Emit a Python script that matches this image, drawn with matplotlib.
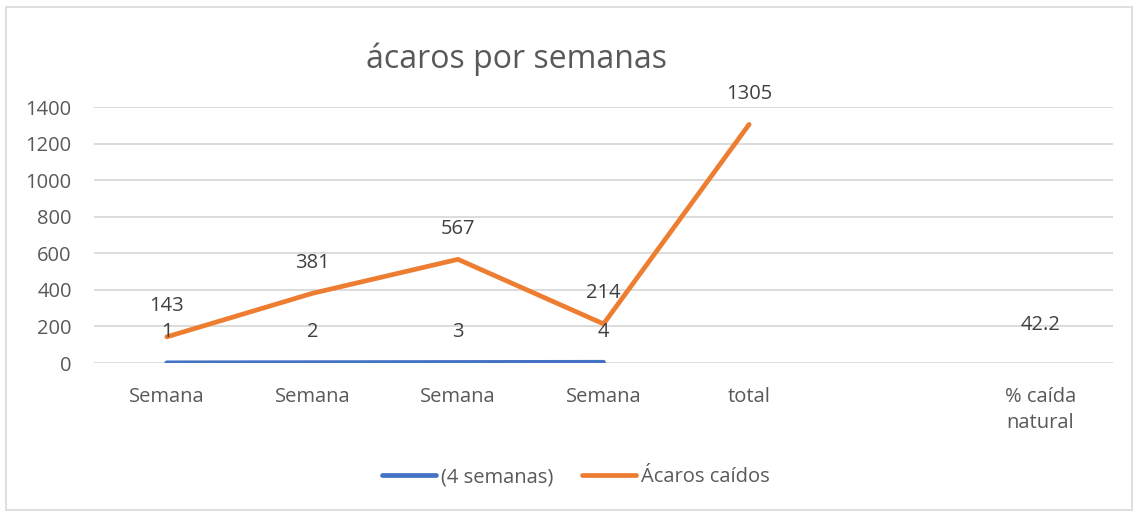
import numpy as np
import matplotlib.pyplot as plt
from matplotlib.patches import Rectangle

# datos
categorias = ["Semana", "Semana", "Semana", "Semana", "total", "", "% caída\nnatural"]
semanas_4 = [1, 2, 3, 4, np.nan, np.nan, np.nan]
acaros_caidos = [143, 381, 567, 214, 1305, np.nan, 42.2]
etiquetas_4 = ["1", "2", "3", "4", "", "", ""]
etiquetas_acaros = ["143", "381", "567", "214", "1305", "", "42.2"]
yticks = [0, 200, 400, 600, 800, 1000, 1200, 1400]

plt.rcParams["font.family"] = ["Open Sans", "DejaVu Sans"]

fig = plt.figure(figsize=(11.38, 5.12), dpi=100)
fig.patches.append(Rectangle((0.005, 0.004), 0.990, 0.983, transform=fig.transFigure,
                             fill=False, edgecolor="#d9d9d9", linewidth=1.2))
ax = fig.add_axes([0.0826, 0.291, 0.8955, 0.5])

x = np.arange(len(categorias))
azul = "#4472C4"
naranja = "#ED7D31"
fs = 14.5

ax.plot(x, semanas_4, color=azul, lw=3.4, solid_capstyle="round", label="(4 semanas)", zorder=3)
ax.plot(x, acaros_caidos, color=naranja, lw=3.4, solid_capstyle="round",
        solid_joinstyle="round", label="Ácaros caídos", zorder=3)

for xi, v, t in zip(x, semanas_4, etiquetas_4):
    if t:
        ax.annotate(t, (xi, v), xytext=(0, 22), textcoords="offset points",
                    ha="center", va="center", fontsize=fs, color="#404040")
for xi, v, t in zip(x, acaros_caidos, etiquetas_acaros):
    if t:
        ax.annotate(t, (xi, v), xytext=(0, 22), textcoords="offset points",
                    ha="center", va="center", fontsize=fs, color="#404040")

ax.set_xlim(-0.5, len(categorias) - 0.5)
ax.set_ylim(0, 1400)
ax.set_yticks(yticks)
ax.set_xticks(x)
ax.set_xticklabels(categorias, va="top", linespacing=1.45)
ax.tick_params(axis="both", length=0, labelsize=fs, labelcolor="#595959")
ax.tick_params(axis="x", pad=17)
ax.tick_params(axis="y", pad=16)
ax.grid(axis="y", color="#d9d9d9", lw=1.3)
ax.set_axisbelow(True)
for s in ax.spines.values():
    s.set_visible(False)

fig.text(0.454, 0.884, "ácaros por semanas", ha="center", va="center",
         fontsize=23, color="#595959")

leg = fig.legend(loc="center", bbox_to_anchor=(0.506, 0.068), ncol=2, frameon=False,
                 fontsize=fs, handlelength=2.7, handletextpad=0.25, columnspacing=1.4)
for txt in leg.get_texts():
    txt.set_color("#595959")

fig.savefig("out.png", dpi=100)
